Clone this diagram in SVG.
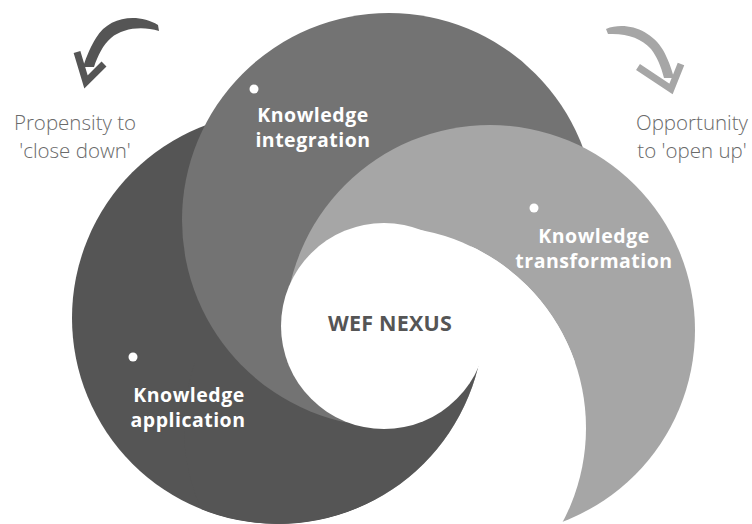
<svg xmlns="http://www.w3.org/2000/svg" width="752" height="524" viewBox="0 0 752 524">
<style>
.dark{fill:#555555}
.mid{fill:#737373}
.light{fill:#a6a6a6}
.white{fill:#ffffff}
.lbl{font-family:"Open Sans","Noto Sans","Liberation Sans",sans-serif;font-weight:700;font-size:19.5px;fill:#ffffff;text-anchor:middle;letter-spacing:0.5px}
.side{font-family:"Open Sans","Noto Sans","Liberation Sans",sans-serif;font-weight:300;font-size:20.5px;fill:#6a6a6a;text-anchor:middle}
.center{font-family:"Open Sans","Noto Sans","Liberation Sans",sans-serif;font-weight:700;font-size:21.5px;fill:#555555;text-anchor:middle;letter-spacing:0.2px}
</style>
<defs>
<clipPath id="outC1"><path clip-rule="evenodd" d="M0,0H752V524H0Z M72,318a206,206 0 1,0 412,0a206,206 0 1,0 -412,0Z"/></clipPath>
<clipPath id="inC1"><circle cx="278" cy="318" r="206"/></clipPath>
<clipPath id="inC4"><circle cx="385" cy="428" r="201"/></clipPath>
<clipPath id="lowLeft"><rect x="0" y="363" width="380" height="161"/></clipPath>
</defs>
<rect width="752" height="524" fill="#ffffff"/>
<g id="swirl">
<circle class="dark" cx="278" cy="318" r="206"/>
<circle class="mid" cx="389" cy="220" r="207"/>
<circle class="light" cx="490" cy="330" r="205"/>
<circle class="white" cx="385" cy="428" r="201" clip-path="url(#outC1)"/>
<g clip-path="url(#inC4)">
<g clip-path="url(#inC1)">
<rect class="dark" x="0" y="363" width="752" height="161"/>
<circle class="mid" cx="389" cy="220" r="207" clip-path="url(#lowLeft)"/>
</g>
<rect class="white" x="400" y="0" width="352" height="363"/>
</g>
</g>
<g id="wef-nexus">
<circle class="white" cx="384" cy="326" r="103"/>
<text class="center" x="390" y="331">WEF NEXUS</text>
</g>
<g id="knowledge-integration">
<circle class="white" cx="254" cy="89" r="4.5"/>
<text class="lbl" x="313" y="122">Knowledge</text>
<text class="lbl" x="313" y="147">integration</text>
</g>
<g id="knowledge-transformation">
<circle class="white" cx="534" cy="208" r="4.5"/>
<text class="lbl" x="594" y="243">Knowledge</text>
<text class="lbl" x="594" y="268">transformation</text>
</g>
<g id="knowledge-application">
<circle class="white" cx="133" cy="357" r="4.5"/>
<text class="lbl" x="189" y="402">Knowledge</text>
<text class="lbl" x="188" y="427">application</text>
</g>
<g id="close-down">
<path class="dark" d="M158,25C138,13 109,16 96,38C91,46 87,55 83,67L94,67C98,55 103,45 111,38C123,28 142,26 159,31Z"/>
<polyline points="77,52 86,82 104,64" fill="none" stroke="#555555" stroke-width="7" stroke-linejoin="miter"/>
<text class="side" x="75" y="130">Propensity to</text>
<text class="side" x="75" y="158">'close down'</text>
</g>
<g id="open-up">
<path class="light" d="M606,29C626,21 651,30 663,50C668,59 671,67 674,78L664,78C661,66 657,57 651,49C641,38 627,33 608,34Z"/>
<polyline points="638,67 671,89 681,64" fill="none" stroke="#a6a6a6" stroke-width="7" stroke-linejoin="miter"/>
<text class="side" x="692" y="130">Opportunity</text>
<text class="side" x="692" y="158">to 'open up'</text>
</g>
</svg>
